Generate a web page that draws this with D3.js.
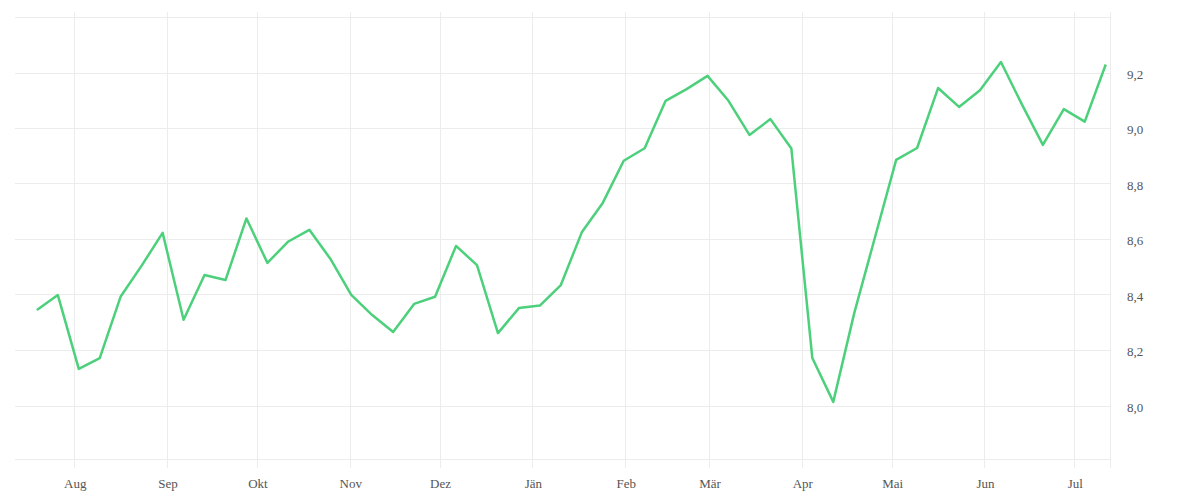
<!DOCTYPE html>
<html>
<head>
<meta charset="utf-8">
<script src="https://cdn.jsdelivr.net/npm/d3@7"></script>
<style>
    body { margin: 0; background: #fff; }
    svg text { font-family: "Liberation Serif", serif; font-size: 13px; fill: #555; }
</style>
</head>
<body>
<svg id="chart" width="1200" height="500"></svg>
<script>
// weekly observations (Tuesdays)
var dates = [
    "2022-07-19", "2022-07-26", "2022-08-02", "2022-08-09", "2022-08-16", "2022-08-23", "2022-08-30",
    "2022-09-06", "2022-09-13", "2022-09-20", "2022-09-27", "2022-10-04", "2022-10-11", "2022-10-18",
    "2022-10-25", "2022-11-01", "2022-11-08", "2022-11-15", "2022-11-22", "2022-11-29", "2022-12-06",
    "2022-12-13", "2022-12-20", "2022-12-27", "2023-01-03", "2023-01-10", "2023-01-17", "2023-01-24",
    "2023-01-31", "2023-02-07", "2023-02-14", "2023-02-21", "2023-02-28", "2023-03-07", "2023-03-14",
    "2023-03-21", "2023-03-28", "2023-04-04", "2023-04-11", "2023-04-18", "2023-04-25", "2023-05-02",
    "2023-05-09", "2023-05-16", "2023-05-23", "2023-05-30", "2023-06-06", "2023-06-13", "2023-06-20",
    "2023-06-27", "2023-07-04", "2023-07-11"
];
var values = [
    8.344, 8.398, 8.132, 8.171, 8.393, 8.504, 8.622,
    8.309, 8.470, 8.452, 8.674, 8.514, 8.591, 8.633,
    8.529, 8.399, 8.326, 8.265, 8.366, 8.392, 8.575,
    8.506, 8.261, 8.351, 8.360, 8.434, 8.624, 8.730,
    8.882, 8.927, 9.098, 9.140, 9.188, 9.098, 8.975,
    9.032, 8.926, 8.171, 8.013, 8.333, 8.609, 8.885,
    8.928, 9.144, 9.076, 9.136, 9.238, 9.085, 8.939,
    9.068, 9.023, 9.229
];
var monthNames = ["Jän", "Feb", "Mär", "Apr", "Mai", "Jun", "Jul", "Aug", "Sep", "Okt", "Nov", "Dez"];
var yTicks = [8.0, 8.2, 8.4, 8.6, 8.8, 9.0, 9.2];

var svg = d3.select("#chart");
var plotLeft = 15, plotRight = 1110, plotTop = 17, plotBottom = 458.5;

var parse = d3.timeParse("%Y-%m-%d");
var data = dates.map(function (d, i) {
    return {date: d3.timeHour.offset(parse(d), 12), value: values[i]};
});

var x = d3.scaleTime()
        .domain([new Date(2022, 7, 1), new Date(2023, 6, 1)])
        .range([74.3, 1074.3]);
var y = d3.scaleLinear()
        .domain([8.0, 9.2])
        .range([405.5, 72.5]);

var de = d3.formatLocale({decimal: ",", thousands: ".", grouping: [3], currency: ["", " €"]});
var fmt = de.format(".1f");

var months = d3.timeMonth.range(new Date(2022, 7, 1), new Date(2023, 6, 2));

// grid
var grid = svg.append("g").attr("stroke", "#ececec").attr("stroke-width", 1);
grid.selectAll("line.h").data(yTicks).enter().append("line")
        .attr("x1", plotLeft).attr("x2", plotRight)
        .attr("y1", function (d) { return Math.round(y(d)) + 0.5; })
        .attr("y2", function (d) { return Math.round(y(d)) + 0.5; });
[plotTop, plotBottom].forEach(function (yy) {
    grid.append("line").attr("x1", plotLeft).attr("x2", plotRight)
            .attr("y1", Math.round(yy) + 0.5).attr("y2", Math.round(yy) + 0.5);
});
grid.selectAll("line.v").data(months).enter().append("line")
        .attr("x1", function (d) { return Math.round(x(d)) + 0.5; })
        .attr("x2", function (d) { return Math.round(x(d)) + 0.5; })
        .attr("y1", 12).attr("y2", 468);
grid.append("line").attr("x1", plotRight + 0.5).attr("x2", plotRight + 0.5).attr("y1", 12).attr("y2", 468);

// axes labels
svg.append("g").selectAll("text").data(months).enter().append("text")
        .attr("x", function (d) { return x(d) + 1; })
        .attr("y", 488)
        .attr("text-anchor", "middle")
        .text(function (d) { return monthNames[d.getMonth()]; });

svg.append("g").selectAll("text").data(yTicks).enter().append("text")
        .attr("x", 1127)
        .attr("y", function (d) { return y(d) + 6; })
        .text(function (d) { return fmt(d); });

// line
var line = d3.line()
        .x(function (d) { return x(d.date); })
        .y(function (d) { return y(d.value); });

svg.append("path").datum(data)
        .attr("fill", "none")
        .attr("stroke", "#4cd07b")
        .attr("stroke-width", 2.5)
        .attr("stroke-linejoin", "round")
        .attr("d", line);
</script>
</body>
</html>
